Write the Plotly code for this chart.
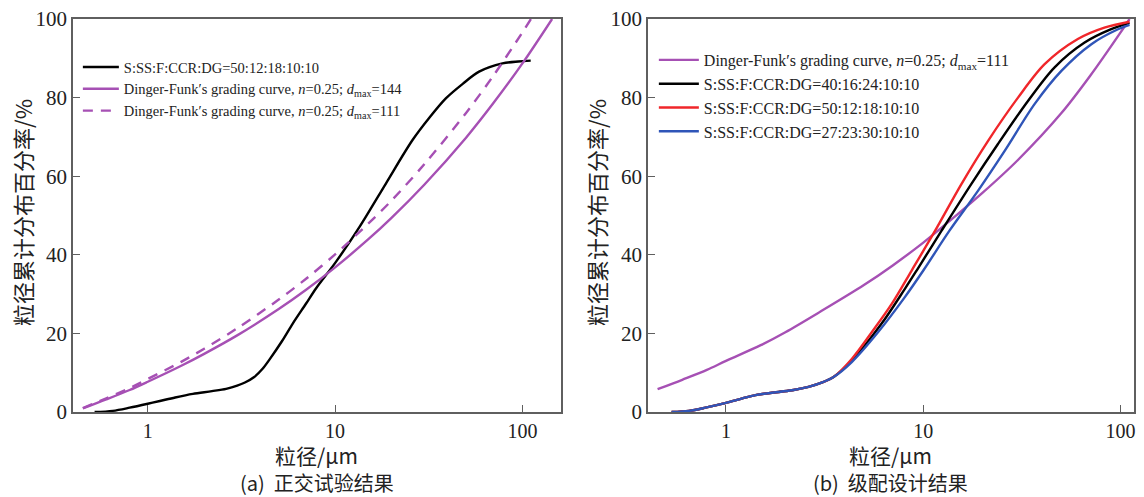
import plotly.graph_objects as go

# ---------------- data ----------------
# Panel (a)
a_meas_d = [0.52, 0.65, 0.8, 1.0, 1.16, 1.4, 1.74, 2.2, 2.62, 3.0, 3.3, 3.7, 4.1, 4.47, 5.2, 5.94,
            7.0, 7.92, 10.1, 13.5, 18.7, 25.9, 32, 39.0, 48, 58.7, 78.2, 95, 110.7]
a_meas_v = [0, 0.3, 1.1, 2.1, 2.8, 3.7, 4.6, 5.3, 5.9, 6.7, 7.5, 8.9, 11.0, 13.4, 18.0, 22.5,
            27.6, 31.5, 38.2, 47.1, 58.2, 69.2, 75, 79.8, 83.5, 86.6, 88.7, 89.2, 89.4]
df_d = [0.45, 0.6, 0.8, 1, 1.5, 2, 3, 5, 7, 10, 15, 20, 30, 50, 70, 100]
a_df144_d = df_d + [144]
a_df144_v = [0.9, 3.2, 5.6, 7.7, 11.7, 14.8, 19.5, 26.2, 31.1, 36.8, 43.9, 49.4, 57.9, 69.8, 78.6, 88.7, 100]
a_df111_d = df_d + [111]
a_df111_v = [1.0, 3.5, 6.1, 8.4, 12.7, 16.1, 21.3, 28.6, 33.9, 40.1, 47.9, 53.8, 63.1, 76.1, 85.6, 96.6, 100]

# Panel (b)
b_df_d = df_d + [111]
b_df_v = [5.8, 8.2, 10.7, 13.0, 17.0, 20.3, 25.5, 32.3, 37.3, 43.1, 50.4, 55.8, 64.0, 76.0, 85.5, 96.6, 100]
low_d = [0.53, 0.65, 0.787, 1.0, 1.2, 1.41, 1.85, 2.2, 2.62, 3.1, 3.51]
low_v = [0, 0.3, 1.1, 2.3, 3.4, 4.3, 5.1, 5.6, 6.4, 7.6, 8.9]
b_black_d = low_d + [4.34, 6.15, 8.08, 9.25, 12.4, 17.5, 23.9, 34.0, 46.3, 65.7, 89.6, 111]
b_black_v = low_v + [13.1, 22.5, 31.4, 36.0, 46.2, 58.0, 68.2, 79.2, 87.7, 94.0, 97.4, 99.0]
b_red_d = low_d + [4.34, 5.48, 6.92, 8.73, 11.5, 15.6, 21.3, 30.2, 41.2, 60.7, 82.8, 111]
b_red_v = low_v + [13.5, 20.3, 27.5, 36.0, 46.2, 58.0, 69.0, 80.0, 88.5, 94.9, 97.8, 99.3]
b_blue_d = low_d + [4.34, 5.92, 8.08, 10.0, 13.6, 19.0, 25.9, 36.7, 50.1, 71.1, 97, 111]
b_blue_v = low_v + [12.7, 20.4, 29.3, 36.0, 46.2, 56.4, 66.5, 78.4, 86.8, 93.6, 97.4, 98.5]

PURPLE = "#a650b4"
RED = "#f0262a"
BLUE = "#2f55b8"
BLACK = "#000000"

lab_meas_a = "S:SS:F:CCR:DG=50:12:18:10:10"
lab_df144 = "Dinger-Funk′s grading curve, <i>n</i>=0.25; <i>d</i><sub>max</sub>=144"
lab_df111 = "Dinger-Funk′s grading curve, <i>n</i>=0.25; <i>d</i><sub>max</sub>=111"
lab_b1 = "S:SS:F:CCR:DG=40:16:24:10:10"
lab_b2 = "S:SS:F:CCR:DG=50:12:18:10:10"
lab_b3 = "S:SS:F:CCR:DG=27:23:30:10:10"

fig = go.Figure()
LW = 2.4
SM = 0.9

fig.add_trace(go.Scatter(x=a_meas_d, y=a_meas_v, mode="lines", name=lab_meas_a,
                         line=dict(color=BLACK, width=LW, shape="spline", smoothing=SM),
                         xaxis="x", yaxis="y", legend="legend"))
fig.add_trace(go.Scatter(x=a_df144_d, y=a_df144_v, mode="lines", name=lab_df144,
                         line=dict(color=PURPLE, width=LW, shape="spline", smoothing=SM),
                         xaxis="x", yaxis="y", legend="legend"))
fig.add_trace(go.Scatter(x=a_df111_d, y=a_df111_v, mode="lines", name=lab_df111,
                         line=dict(color=PURPLE, width=LW, dash="10px,8px", shape="spline", smoothing=SM),
                         xaxis="x", yaxis="y", legend="legend"))

fig.add_trace(go.Scatter(x=b_df_d, y=b_df_v, mode="lines", name=lab_df111,
                         line=dict(color=PURPLE, width=LW, shape="spline", smoothing=SM),
                         xaxis="x2", yaxis="y2", legend="legend2"))
fig.add_trace(go.Scatter(x=b_black_d, y=b_black_v, mode="lines", name=lab_b1,
                         line=dict(color=BLACK, width=LW, shape="spline", smoothing=SM),
                         xaxis="x2", yaxis="y2", legend="legend2"))
fig.add_trace(go.Scatter(x=b_red_d, y=b_red_v, mode="lines", name=lab_b2,
                         line=dict(color=RED, width=LW, shape="spline", smoothing=SM),
                         xaxis="x2", yaxis="y2", legend="legend2"))
fig.add_trace(go.Scatter(x=b_blue_d, y=b_blue_v, mode="lines", name=lab_b3,
                         line=dict(color=BLUE, width=LW, shape="spline", smoothing=SM),
                         xaxis="x2", yaxis="y2", legend="legend2"))

SERIF = "Liberation Serif"
CJK = "Noto Sans CJK SC"
AXC = "#5f5f5f"
TXT = "#222222"

common_x = dict(type="log", showgrid=False, zeroline=False, showline=True, linecolor=AXC,
                linewidth=1.5, mirror=True, ticks="inside", ticklen=7, tickcolor=AXC,
                tickwidth=1.2, tickvals=[1, 10, 100], ticktext=["1", "10", "100"],
                tickfont=dict(family=SERIF, size=20, color=TXT))
common_y = dict(range=[0, 100], showgrid=False, zeroline=False, showline=True, linecolor=AXC,
                linewidth=1.5, mirror=True, ticks="inside", ticklen=7, tickcolor=AXC,
                tickwidth=1.2, tickvals=[0, 20, 40, 60, 80, 100],
                tickfont=dict(family=SERIF, size=21, color=TXT))


def py(ypix):
    return 1 - (ypix - 19) / 393


fig.update_layout(
    width=1144, height=497,
    margin=dict(l=0, r=0, t=19, b=85),
    paper_bgcolor="white", plot_bgcolor="white",
    xaxis=dict(common_x, domain=[73 / 1144, 562 / 1144], range=[-0.40, 2.206], anchor="y"),
    yaxis=dict(common_y, anchor="x"),
    xaxis2=dict(common_x, domain=[649 / 1144, 1136 / 1144], range=[-0.396, 2.068], anchor="y2"),
    yaxis2=dict(common_y, anchor="x2"),
    legend=dict(x=78 / 1144, y=py(51), xanchor="left", yanchor="top",
                bgcolor="rgba(0,0,0,0)", font=dict(family=SERIF, size=14.5, color=TXT),
                tracegroupgap=0, itemwidth=36),
    legend2=dict(x=655 / 1144, y=py(43), xanchor="left", yanchor="top",
                 bgcolor="rgba(0,0,0,0)", font=dict(family=SERIF, size=16, color=TXT),
                 tracegroupgap=0, itemwidth=40),
    showlegend=True,
)

for xc in [22, 597]:
    fig.add_annotation(text="粒径累计分布百分率/%", x=xc / 1144, y=py(212), xref="paper", yref="paper",
                       xanchor="center", yanchor="middle", textangle=-90, showarrow=False,
                       font=dict(family=CJK, size=22, color=TXT))
for xc, cap in [((73 + 562) / 2, "(a)  正交试验结果"), ((649 + 1136) / 2, "(b)  级配设计结果")]:
    fig.add_annotation(text="粒径/μm", x=xc / 1144, y=py(455), xref="paper", yref="paper",
                       xanchor="center", yanchor="middle", showarrow=False,
                       font=dict(family=CJK, size=21, color=TXT))
    fig.add_annotation(text=cap, x=xc / 1144, y=py(483), xref="paper", yref="paper",
                       xanchor="center", yanchor="middle", showarrow=False,
                       font=dict(family=CJK, size=20, color=TXT))

fig.write_html("out.html")
